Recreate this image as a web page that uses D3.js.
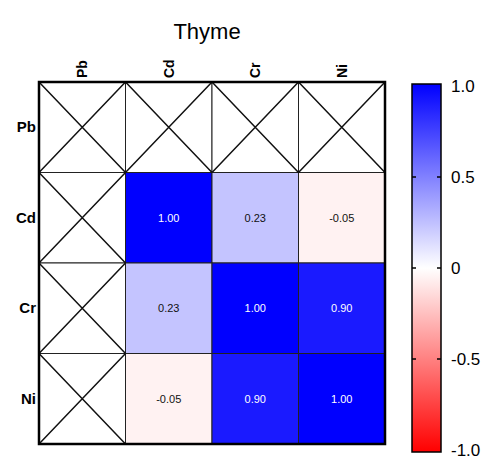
<!DOCTYPE html>
<html>
<head>
<meta charset="utf-8">
<script src="https://cdn.jsdelivr.net/npm/d3@7"></script>
<style>
  body { margin: 0; background: #fff; }
  text { font-family: Arial, "Liberation Sans", sans-serif; }
</style>
</head>
<body>
<svg id="chart" width="485" height="459"></svg>
<script>
// metals, row/column order
var metals = ["Pb", "Cd", "Cr", "Ni"];
// correlation matrix, null = not computed (crossed cell)
var corr = [
  [null, null, null, null],
  [null, 1.00, 0.23, -0.05],
  [null, 0.23, 1.00, 0.90],
  [null, -0.05, 0.90, 1.00]
];
var barTicks = [1.0, 0.5, 0, -0.5, -1.0];
var barLabels = ["1.0", "0.5", "0", "-0.5", "-1.0"];
var title = "Thyme";

var svg = d3.select("#chart");
var gLeft = 39, gTop = 82, gRight = 385, gBottom = 444;

var x = d3.scaleBand().domain(metals).range([gLeft, gRight]);
var y = d3.scaleBand().domain(metals).range([gTop, gBottom]);
var color = d3.scaleLinear().domain([-1, 0, 1]).range(["#ff0000", "#ffffff", "#0000ff"]);

var cells = [];
corr.forEach(function(row, i) {
  row.forEach(function(v, j) {
    cells.push({ r: metals[i], c: metals[j], v: v });
  });
});

var g = svg.append("g");
g.selectAll("rect.cell")
  .data(cells)
  .enter().append("rect")
  .attr("class", "cell")
  .attr("x", d => x(d.c))
  .attr("y", d => y(d.r))
  .attr("width", x.bandwidth())
  .attr("height", y.bandwidth())
  .attr("fill", d => d.v == null ? "#fff" : color(d.v))
  .attr("stroke", "#222")
  .attr("stroke-width", 1);

// crosses for empty cells
var empty = cells.filter(d => d.v == null);
g.selectAll("path.cross")
  .data(empty)
  .enter().append("path")
  .attr("d", function(d) {
    var x0 = x(d.c), y0 = y(d.r), x1 = x0 + x.bandwidth(), y1 = y0 + y.bandwidth();
    return "M" + x0 + "," + y0 + "L" + x1 + "," + y1 + "M" + x1 + "," + y0 + "L" + x0 + "," + y1;
  })
  .attr("stroke", "#111")
  .attr("stroke-width", 1.5)
  .attr("fill", "none");

g.selectAll("text.val")
  .data(cells.filter(d => d.v != null))
  .enter().append("text")
  .attr("x", d => x(d.c) + x.bandwidth() / 2)
  .attr("y", d => y(d.r) + y.bandwidth() / 2 + 4)
  .attr("text-anchor", "middle")
  .attr("font-size", 11)
  .attr("fill", d => d.v > 0.6 ? "#fff" : "#111")
  .text(d => d.v.toFixed(2));

// outer frame
svg.append("rect")
  .attr("x", gLeft).attr("y", gTop)
  .attr("width", gRight - gLeft).attr("height", gBottom - gTop)
  .attr("fill", "none").attr("stroke", "#000").attr("stroke-width", 2.5);

// row labels
svg.selectAll("text.row")
  .data(metals)
  .enter().append("text")
  .attr("x", gLeft - 3)
  .attr("y", d => y(d) + y.bandwidth() / 2 + 5)
  .attr("text-anchor", "end")
  .attr("font-size", 15)
  .attr("font-weight", "bold")
  .text(d => d);

// column labels, rotated
svg.selectAll("text.col")
  .data(metals)
  .enter().append("text")
  .attr("transform", d => "translate(" + (x(d) + x.bandwidth() / 2 + 5) + "," + (gTop - 4) + ") rotate(-90)")
  .attr("text-anchor", "start")
  .attr("font-size", 14)
  .attr("font-weight", "bold")
  .text(d => d);

svg.append("text")
  .attr("x", 207).attr("y", 39)
  .attr("text-anchor", "middle")
  .attr("font-size", 22)
  .text(title);

// colour bar
var bx = 412, bw = 29;
var cy = d3.scaleLinear().domain([1, -1]).range([86, 450]);
var defs = svg.append("defs");
var grad = defs.append("linearGradient").attr("id", "grad")
  .attr("x1", 0).attr("y1", 0).attr("x2", 0).attr("y2", 1);
grad.selectAll("stop")
  .data([1, 0, -1])
  .enter().append("stop")
  .attr("offset", (d, i) => i * 50 + "%")
  .attr("stop-color", d => color(d));

svg.append("rect")
  .attr("x", bx).attr("y", cy(1) - 2)
  .attr("width", bw).attr("height", cy(-1) - cy(1) + 4)
  .attr("fill", "url(#grad)")
  .attr("stroke", "#000").attr("stroke-width", 1.5);

var inner = barTicks.filter(d => Math.abs(d) < 1);
svg.selectAll("line.tl")
  .data(inner).enter().append("line")
  .attr("x1", bx).attr("x2", bx + 4)
  .attr("y1", d => cy(d)).attr("y2", d => cy(d))
  .attr("stroke", "#000").attr("stroke-width", 1.5);
svg.selectAll("line.tr")
  .data(inner).enter().append("line")
  .attr("x1", bx + bw - 4).attr("x2", bx + bw)
  .attr("y1", d => cy(d)).attr("y2", d => cy(d))
  .attr("stroke", "#000").attr("stroke-width", 1.5);

svg.selectAll("text.bt")
  .data(barTicks).enter().append("text")
  .attr("x", bx + bw + 10)
  .attr("y", d => cy(d) + 6)
  .attr("font-size", 17)
  .text((d, i) => barLabels[i]);
</script>
</body>
</html>
